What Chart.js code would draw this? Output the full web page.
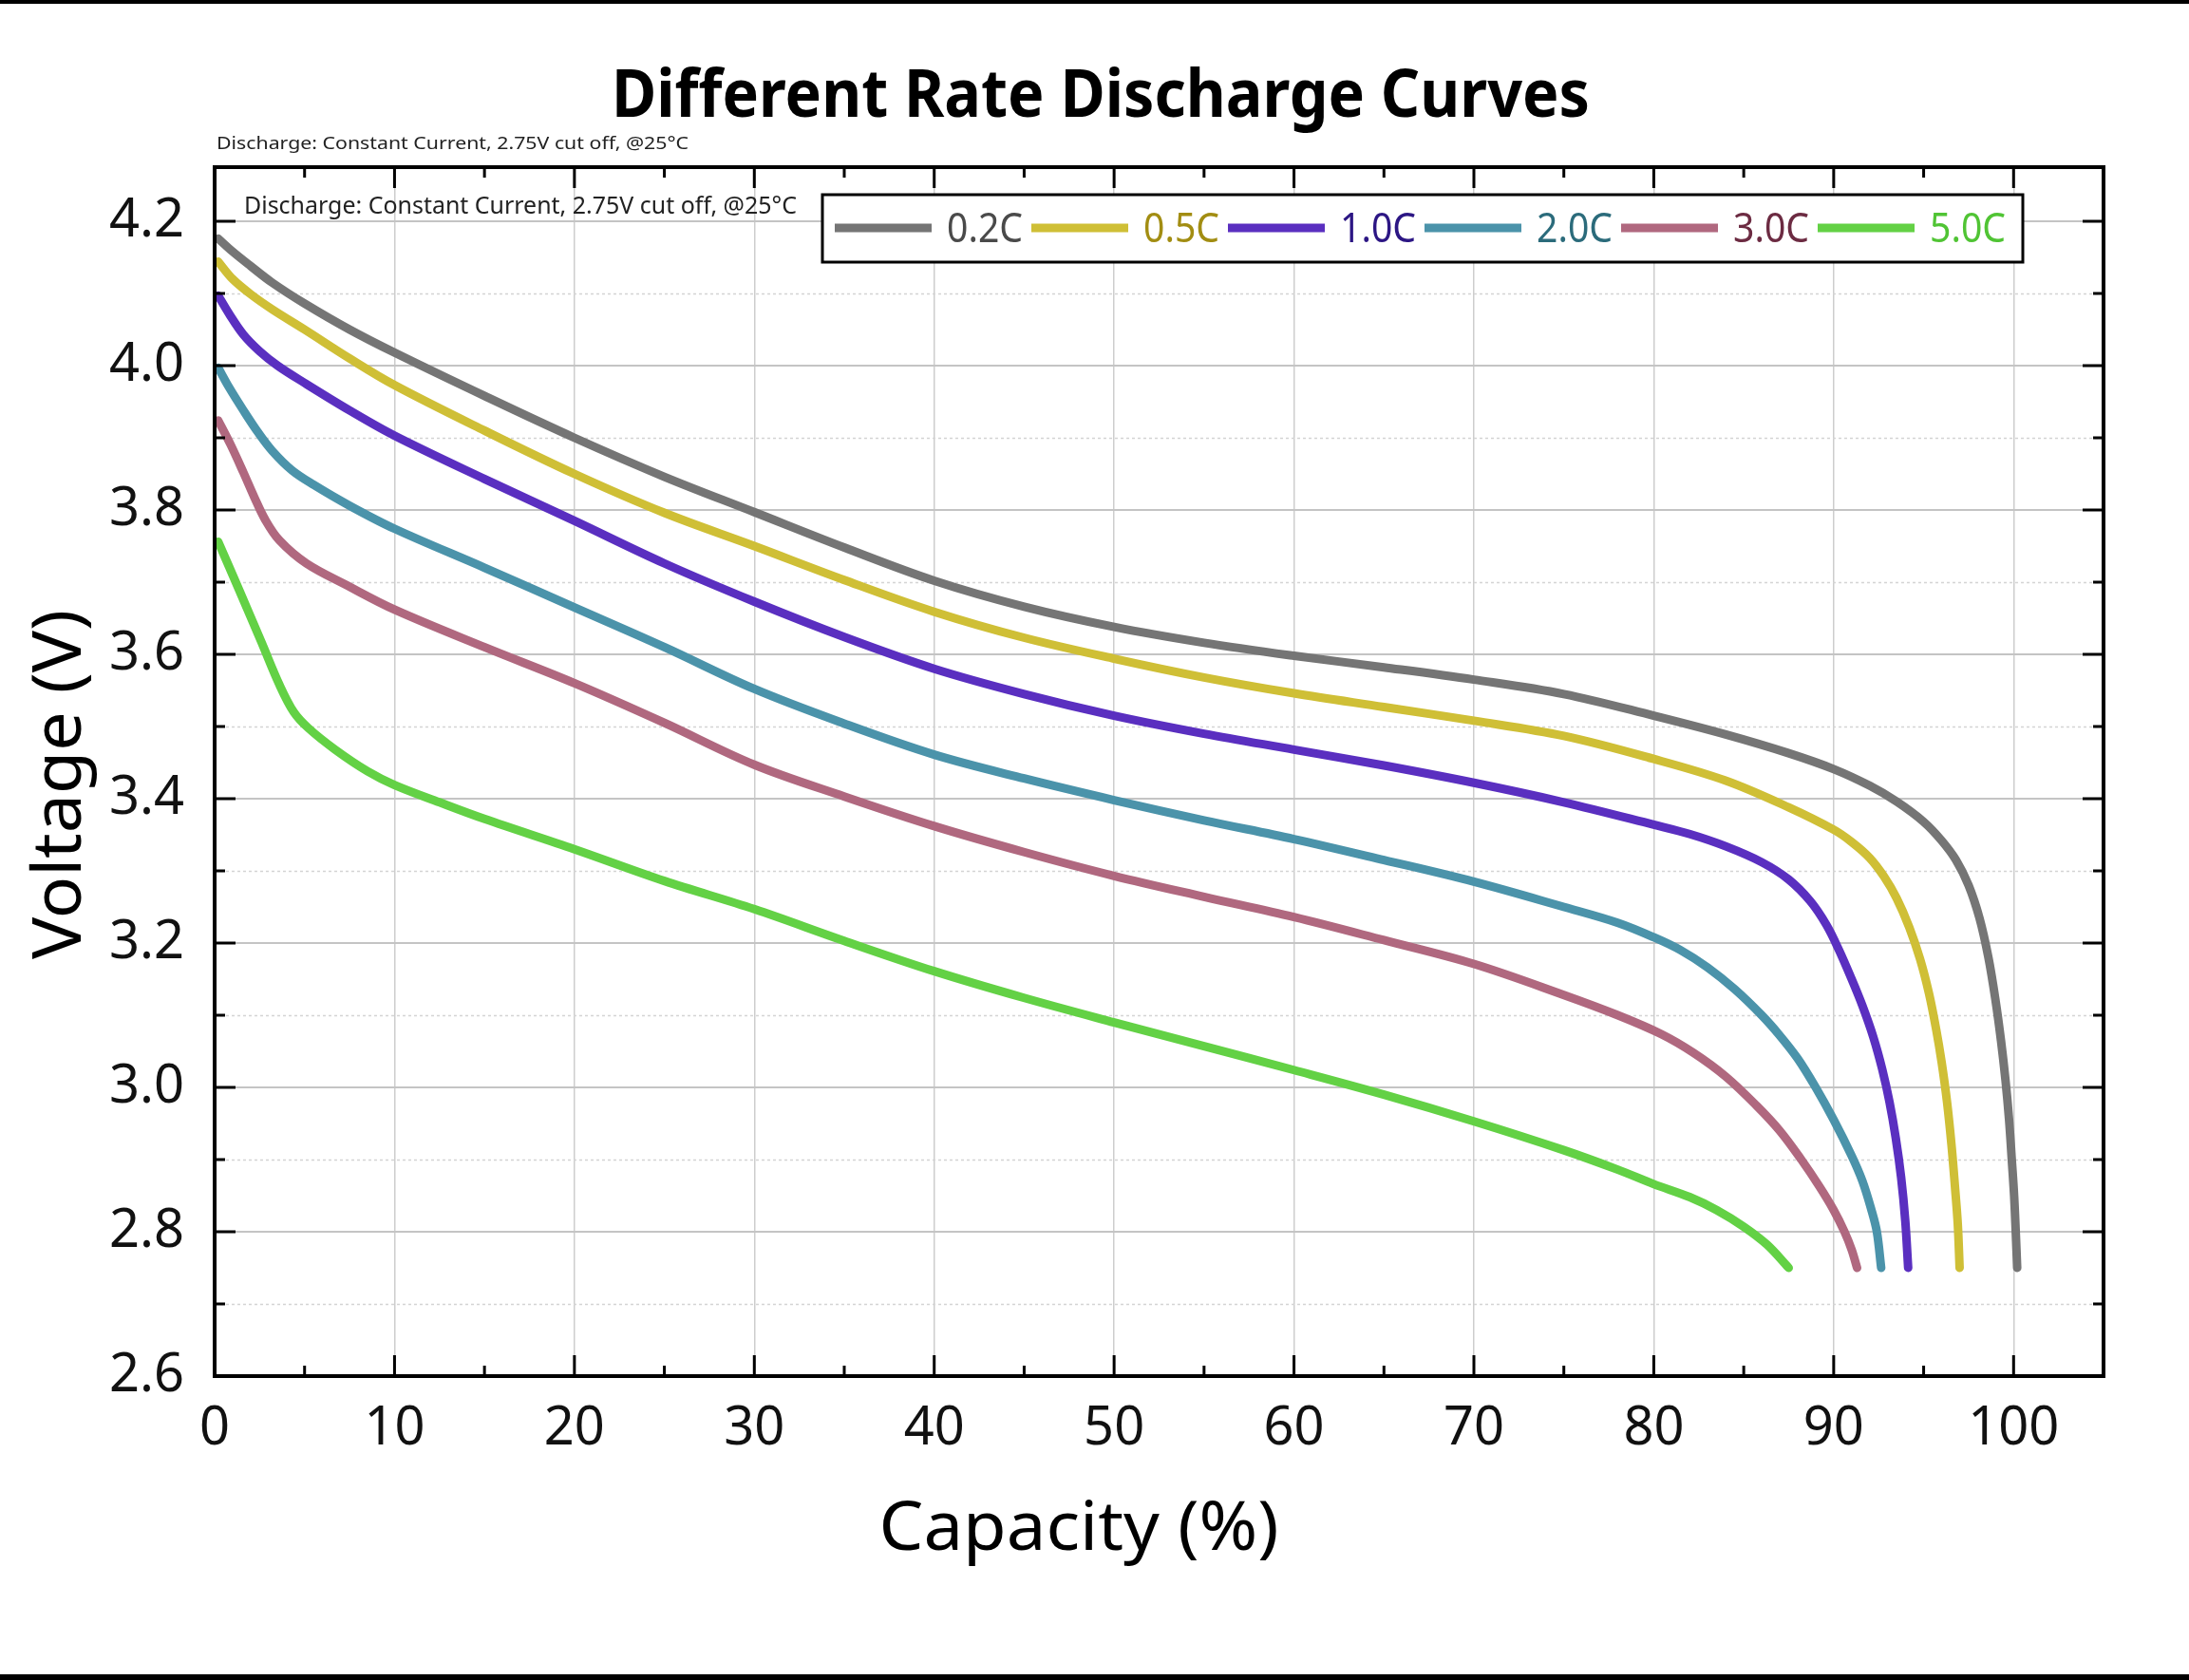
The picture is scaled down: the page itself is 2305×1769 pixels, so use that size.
<!DOCTYPE html>
<html>
<head>
<meta charset="utf-8">
<title>Different Rate Discharge Curves</title>
<script src="https://cdn.jsdelivr.net/npm/chart.js@4.4.1/dist/chart.umd.min.js"></script>
<style>
  html, body { margin: 0; padding: 0; background: #fff; }
  #wrap { position: relative; width: 2305px; height: 1769px; overflow: hidden; background: #fff; }
  #wrap::before, #wrap::after { content: ''; position: absolute; left: 0; width: 100%; background: #000; }
  #wrap::before { top: 0; height: 4px; }
  #wrap::after { bottom: 0; height: 6px; }
  canvas { position: absolute; left: 0; top: 0; }
</style>
</head>
<body>
<div id="wrap"><canvas id="dischargeChart" width="2305" height="1769"></canvas></div>
<script>
// ---- Data ----
const seriesLabels = ['0.2C', '0.5C', '1.0C', '2.0C', '3.0C', '5.0C'];

// capacity (%) / voltage (V) pairs for each rate
const cap02 = [0.2, 1, 2, 3.2, 5, 7.5, 10, 15, 20, 25, 30, 35, 40, 45, 50, 55, 60, 65, 70, 75, 80, 84, 87.5, 90, 92, 93.5, 95, 96, 96.8, 97.5, 98.1, 98.6, 99.0, 99.3, 99.55, 99.75, 99.9, 100.03, 100.12, 100.2];
const volt02 = [4.176, 4.158, 4.138, 4.115, 4.086, 4.05, 4.018, 3.958, 3.9, 3.846, 3.797, 3.748, 3.702, 3.666, 3.638, 3.616, 3.598, 3.582, 3.565, 3.545, 3.515, 3.489, 3.463, 3.441, 3.418, 3.396, 3.368, 3.342, 3.315, 3.28, 3.235, 3.18, 3.12, 3.065, 3.01, 2.955, 2.9, 2.85, 2.8, 2.75];

const cap05 = [0.2, 1, 2, 3.2, 5, 7.5, 10, 15, 20, 25, 30, 35, 40, 45, 50, 55, 60, 65, 70, 75, 80, 84, 87.5, 90, 91, 92, 92.8, 93.5, 94.2, 94.8, 95.3, 95.7, 96.0, 96.3, 96.55, 96.75, 96.9, 97.0];
const volt05 = [4.144, 4.12, 4.099, 4.078, 4.05, 4.01, 3.973, 3.91, 3.85, 3.796, 3.75, 3.703, 3.659, 3.623, 3.594, 3.568, 3.546, 3.527, 3.508, 3.487, 3.455, 3.425, 3.388, 3.357, 3.34, 3.318, 3.292, 3.262, 3.222, 3.178, 3.13, 3.08, 3.035, 2.98, 2.92, 2.86, 2.81, 2.75];

const cap10 = [0.2, 0.8, 1.6, 2.5, 3.5, 5, 7.5, 10, 15, 20, 25, 30, 35, 40, 45, 50, 55, 60, 65, 70, 75, 80, 82, 84, 86, 87.5, 88.7, 89.6, 90.3, 91, 91.6, 92.2, 92.7, 93.1, 93.45, 93.75, 93.98, 94.14];
const volt10 = [4.097, 4.072, 4.043, 4.02, 4.0, 3.976, 3.938, 3.903, 3.843, 3.785, 3.726, 3.673, 3.624, 3.58, 3.545, 3.515, 3.49, 3.468, 3.446, 3.422, 3.395, 3.364, 3.351, 3.334, 3.312, 3.288, 3.258, 3.225, 3.19, 3.15, 3.113, 3.07, 3.025, 2.98, 2.93, 2.875, 2.815, 2.75];

const cap20 = [0.2, 0.8, 1.6, 2.4, 3.2, 4.3, 5.5, 7.5, 10, 15, 20, 25, 30, 35, 40, 45, 50, 55, 60, 65, 70, 75, 78, 80, 81.5, 83, 84.5, 86, 87, 88, 89, 90, 91, 91.6, 92.1, 92.4, 92.64];
const volt20 = [3.997, 3.97, 3.938, 3.908, 3.882, 3.855, 3.835, 3.806, 3.774, 3.72, 3.665, 3.61, 3.552, 3.504, 3.461, 3.428, 3.398, 3.37, 3.344, 3.315, 3.285, 3.25, 3.228, 3.208, 3.19, 3.166, 3.136, 3.1, 3.072, 3.04, 3.0, 2.955, 2.905, 2.87, 2.83, 2.8, 2.75];

const cap30 = [0.2, 0.9, 1.6, 2.2, 2.8, 3.6, 5.1, 7.4, 10, 15, 20, 25, 30, 35, 40, 45, 50, 55, 60, 65, 70, 75, 78, 80.4, 82.2, 84, 85.7, 87, 88.2, 89.2, 90, 90.6, 91, 91.3];
const volt30 = [3.924, 3.89, 3.852, 3.818, 3.787, 3.758, 3.726, 3.695, 3.662, 3.61, 3.56, 3.505, 3.447, 3.403, 3.362, 3.326, 3.293, 3.264, 3.236, 3.204, 3.171, 3.128, 3.1, 3.074, 3.048, 3.015, 2.975, 2.94, 2.9, 2.863, 2.83, 2.8, 2.775, 2.75];

const cap50 = [0.2, 1.4, 2.6, 3.6, 4.4, 5.2, 6.7, 8.5, 10, 12.5, 15, 20, 25, 30, 35, 40, 45, 50, 55, 60, 65, 70, 75, 78, 80, 82, 83.5, 85, 86.3, 87.5];
const volt50 = [3.756, 3.687, 3.617, 3.558, 3.52, 3.498, 3.468, 3.438, 3.419, 3.395, 3.372, 3.33, 3.286, 3.247, 3.203, 3.161, 3.124, 3.09, 3.057, 3.024, 2.99, 2.953, 2.913, 2.886, 2.866, 2.848, 2.83, 2.807, 2.782, 2.75];

const capacities = [cap02, cap05, cap10, cap20, cap30, cap50];
const voltages = [volt02, volt05, volt10, volt20, volt30, volt50];

// tick values
const xTickValues = [0, 10, 20, 30, 40, 50, 60, 70, 80, 90, 100];
const yTickValues = [2.6, 2.8, 3.0, 3.2, 3.4, 3.6, 3.8, 4.0, 4.2];

// ---- Styles ----
const lineColors = ['#757575', '#cfbf36', '#5a2fc0', '#4b93aa', '#b0687f', '#63d145'];
const labelColors = ['#4a4a4a', '#a28d12', '#2c1684', '#2b6b7b', '#6c2b42', '#50c434'];
const FONT = "'Noto Sans', 'Open Sans', sans-serif";

// minor ticks sit halfway between major ticks
const midpoints = (vals) => vals.slice(1).map((v, i) => (v + vals[i]) / 2);
const xMinorValues = midpoints(xTickValues);
const yMinorValues = midpoints(yTickValues);

// draw text squeezed/stretched to a given width
function fitText(ctx, text, x, y, width, align) {
  const w = ctx.measureText(text).width;
  ctx.save();
  ctx.translate(x, y);
  ctx.scale(width / w, 1);
  ctx.textAlign = align;
  ctx.fillText(text, 0, 0);
  ctx.restore();
}

// ---- Frame, inward ticks, legend and texts ----
const framePlugin = {
  id: 'frame',
  beforeDatasetsDraw(chart) {
    const { ctx, chartArea: a, scales: { y } } = chart;
    ctx.save();
    ctx.strokeStyle = '#d4d4d4';
    ctx.lineWidth = 1.5;
    ctx.setLineDash([3, 3]);
    yMinorValues.forEach((v) => {
      const py = Math.round(y.getPixelForValue(v)) + 0.5;
      ctx.beginPath();
      ctx.moveTo(a.left, py);
      ctx.lineTo(a.right, py);
      ctx.stroke();
    });
    ctx.restore();
  },
  afterDraw(chart) {
    const { ctx, chartArea: a, scales: { x, y } } = chart;
    ctx.save();

    // tick marks on all four sides, pointing inward
    ctx.strokeStyle = '#000';
    ctx.lineWidth = 3;
    const tick = (x1, y1, x2, y2) => {
      ctx.beginPath();
      ctx.moveTo(x1, y1);
      ctx.lineTo(x2, y2);
      ctx.stroke();
    };
    xTickValues.forEach((v) => {
      const px = x.getPixelForValue(v);
      tick(px, a.bottom, px, a.bottom - 22);
      tick(px, a.top, px, a.top + 22);
    });
    xMinorValues.forEach((v) => {
      const px = x.getPixelForValue(v);
      tick(px, a.bottom, px, a.bottom - 11);
      tick(px, a.top, px, a.top + 11);
    });
    yTickValues.forEach((v) => {
      const py = y.getPixelForValue(v);
      tick(a.left, py, a.left + 22, py);
      tick(a.right, py, a.right - 22, py);
    });
    yMinorValues.forEach((v) => {
      const py = y.getPixelForValue(v);
      tick(a.left, py, a.left + 11, py);
      tick(a.right, py, a.right - 11, py);
    });

    // plot frame
    ctx.lineWidth = 4;
    ctx.strokeRect(a.left, a.top, a.right - a.left, a.bottom - a.top);

    // legend box inside the plot
    ctx.fillStyle = '#fff';
    ctx.fillRect(866, 205, 1264, 71);
    ctx.lineWidth = 3;
    ctx.strokeRect(866, 205, 1264, 71);
    ctx.font = `44px ${FONT}`;
    ctx.textBaseline = 'alphabetic';
    seriesLabels.forEach((label, i) => {
      const lx = 879 + 207 * i;
      ctx.strokeStyle = lineColors[i];
      ctx.lineWidth = 9;
      tick(lx, 240, lx + 102, 240);
      ctx.fillStyle = labelColors[i];
      fitText(ctx, label, lx + 118, 255, 80, 'left');
    });

    // texts
    ctx.fillStyle = '#000';
    ctx.font = `bold 70px ${FONT}`;
    fitText(ctx, 'Different Rate Discharge Curves', 1159, 123, 1030, 'center');

    ctx.fillStyle = '#222';
    ctx.font = `18px ${FONT}`;
    fitText(ctx, 'Discharge: Constant Current, 2.75V cut off, @25\u00b0C', 228, 157, 497, 'left');
    ctx.font = `25px ${FONT}`;
    fitText(ctx, 'Discharge: Constant Current, 2.75V cut off, @25\u00b0C', 257, 225, 582, 'left');

    ctx.fillStyle = '#000';
    ctx.font = `72px ${FONT}`;
    fitText(ctx, 'Capacity (%)', 1136, 1632, 421, 'center');
    ctx.save();
    ctx.translate(85, 826);
    ctx.rotate(-Math.PI / 2);
    fitText(ctx, 'Voltage (V)', 0, 0, 368, 'center');
    ctx.restore();

    ctx.restore();
  },
};

// ---- Chart ----
function initDischargeChart() {
  const canvas = document.getElementById('dischargeChart');

  const datasets = seriesLabels.map((label, i) => ({
    label,
    data: capacities[i].map((c, j) => ({ x: c, y: voltages[i][j] })),
    borderColor: lineColors[i],
    backgroundColor: lineColors[i],
    borderWidth: 9,
    pointRadius: 0,
    fill: false,
    tension: 0.35,
    borderCapStyle: 'round',
    borderJoinStyle: 'round',
  }));

  new Chart(canvas.getContext('2d'), {
    type: 'line',
    data: { datasets },
    plugins: [framePlugin],
    options: {
      responsive: false,
      animation: false,
      events: [],
      layout: { padding: { top: 176, right: 90, left: 0, bottom: 0 } },
      plugins: {
        legend: { display: false },
        tooltip: { enabled: false },
      },
      scales: {
        x: {
          type: 'linear',
          min: 0,
          max: 105,
          afterBuildTicks: (s) => { s.ticks = xTickValues.map((v) => ({ value: v })); },
          afterFit: (s) => { s.height = 320; },
          ticks: {
            font: { family: FONT, size: 56 },
            color: '#111',
            padding: 22,
            maxRotation: 0,
            callback: (v) => String(v),
          },
          grid: { color: '#cdcdcd', lineWidth: 1.5, drawTicks: false },
          border: { display: false },
        },
        y: {
          type: 'linear',
          min: 2.6,
          max: 4.275,
          afterBuildTicks: (s) => { s.ticks = yTickValues.map((v) => ({ value: v })); },
          afterFit: (s) => { s.width = 226; },
          ticks: {
            font: { family: FONT, size: 56 },
            color: '#111',
            padding: 32,
            callback: (v) => v.toFixed(1),
          },
          grid: { color: '#c4c4c4', lineWidth: 2, drawTicks: false },
          border: { display: false },
        },
      },
    },
  });
}

document.addEventListener('DOMContentLoaded', initDischargeChart);
</script>
</body>
</html>
